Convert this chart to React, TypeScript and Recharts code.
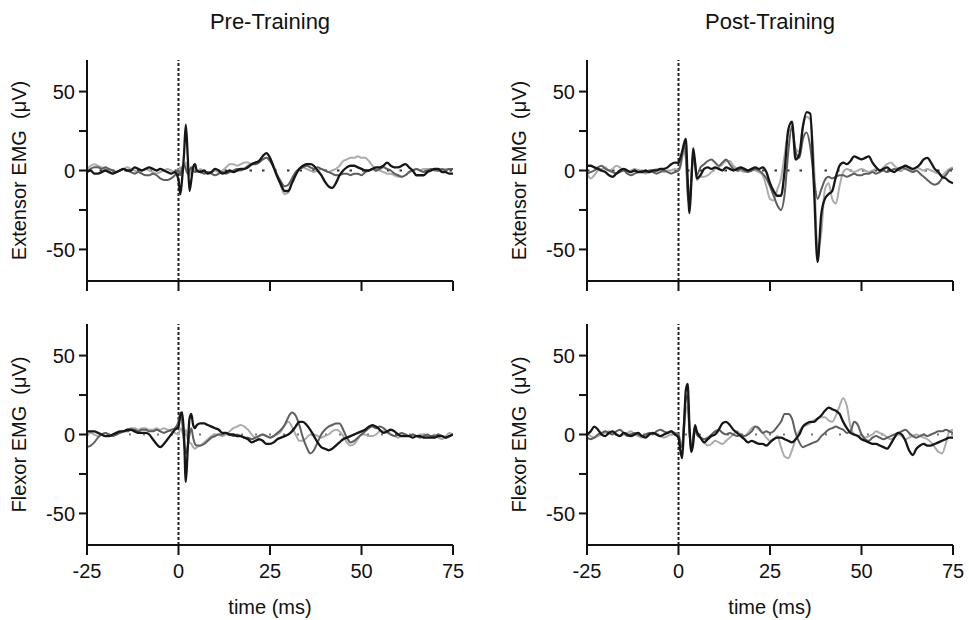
import React from 'react';
import { LineChart, Line, XAxis, YAxis, ReferenceLine } from 'recharts';

// time grid (ms): 1 ms steps, 0.5 ms steps through the stimulus artefact
const TIME = [
  -25, -24, -23, -22, -21, -20, -19, -18, -17, -16, -15, -14, -13, -12, -11, -10, -9, -8, -7, -6, -5, -4, -3, -2, -1,
  0, 0.5, 1, 1.5, 2, 2.5, 3, 3.5, 4, 4.5, 5,
  6, 7, 8, 9, 10, 11, 12, 13, 14, 15, 16, 17, 18, 19, 20, 21, 22, 23, 24, 25,
  26, 27, 28, 29, 30, 31, 32, 33, 34, 35, 36, 37, 38, 39, 40, 41, 42, 43, 44, 45,
  46, 47, 48, 49, 50, 51, 52, 53, 54, 55, 56, 57, 58, 59, 60, 61, 62, 63, 64, 65,
  66, 67, 68, 69, 70, 71, 72, 73, 74, 75,
];

const X_TICKS = [-25, 0, 25, 50, 75];
const Y_TICKS = [-50, -25, 0, 25, 50];
const Y_LABELED = [50, 0, -50];

// Pre-Training, extensor (µV)
const PRE_EXT_BLACK = [
  -1, 0, -2, -2, -1, 0, -1, -2, -1, 0, 1, 0, 0, 2, 1, 0, 1, 2, 1, 0, 1, 0, -1, -2, -1,
  -6, -15, -5, 10, 29, 10, -13, -6, 2, 4, 0,
  -1, 0, -2, -1, 1, 0, -2, -1, 0, -1, 0, 1, 1, 2, 4, 5, 6, 9, 11, 8,
  2, -4, -9, -13, -13, -8, -3, 1, 3, 4, 4, 3, 0, -3, -7, -10, -11, -8, -3, 0,
  2, 3, 3, 2, 1, 0, 0, 1, 2, 2, 3, 5, 3, 2, 2, 3, 4, 2, 0, -3,
  -3, -3, -1, 0, 1, 1, -1, -1, -2, -2,
];
const PRE_EXT_DARK = [
  -1, 1, 2, 2, 1, 2, 1, 0, -1, 0, 1, 0, -1, -2, -1, -2, -3, -3, -2, -3, -5, -6, -6, -5, -3,
  0, -3, 2, 4, 1, -2, 0, 2, 0, -1, 0,
  -1, -2, -1, -2, -3, -2, -1, -2, -1, 0, 1, 0, 1, 3, 4, 4, 5, 7, 8, 6,
  2, -3, -7, -10, -9, -5, -1, 1, 2, 3, 2, 1, 2, 1, 0, -1, -2, -3, -3, -2,
  -2, -3, -2, -2, -3, -1, 0, 1, 0, 1, 2, 1, 0, -2, -3, -4, -3, -1, 0, 1,
  0, -1, 0, 1, 0, 0, 1, 0, 1, 1,
];
const PRE_EXT_LIGHT = [
  1, 3, 4, 3, 2, 1, 0, -2, -1, 0, 1, 2, 1, 0, -1, 0, 1, 0, -1, -2, -1, 0, 1, 0, -1,
  0, 2, -2, 3, 5, 0, -3, 1, 2, 0, -1,
  1, -1, -2, -1, 0, -1, 0, 2, 4, 4, 3, 4, 5, 5, 4, 5, 6, 7, 8, 7,
  3, -3, -10, -15, -14, -7, -2, 1, 2, 1, 0, -1, 0, 1, 0, -1, 0, 1, 3, 6,
  7, 8, 8, 9, 8, 8, 6, 3, 1, 0, -1, -2, -2, -3, -4, -4, -3, -1, 0, 1,
  0, 1, 1, 0, 1, 1, 0, 1, 1, 1,
];

// Pre-Training, flexor (µV)
const PRE_FLX_BLACK = [
  2, 2, 2, 1, 0, -1, -1, 0, 1, 2, 2, 3, 3, 2, 1, 1, 1, 0, -3, -6, -8, -6, -3, 0, 3,
  5, 12, 14, 0, -30, -10, 10, 13, 6, 4, 6,
  7, 7, 6, 5, 4, 3, 1, 1, 0, 0, -1, -1, -2, -3, -5, -4, -3, -4, -6, -6,
  -5, -3, -2, -1, 0, 2, 5, 8, 8, 6, 3, -1, -5, -8, -9, -10, -9, -7, -5, -3,
  -2, -1, 0, 1, 2, 3, 5, 6, 5, 3, 1, 2, 3, 2, 0, -1, -1, -1, -2, -1,
  -1, -2, -2, -2, -2, -1, -1, -2, -1, 0,
];
const PRE_FLX_DARK = [
  -8, -7, -5, -2, 0, 1, 0, -1, 0, 1, 2, 2, 3, 3, 2, 3, 3, 2, 2, 3, 2, 1, 2, 3, 4,
  8, 14, 8, -5, -12, -8, 0, 4, -2, -6, -7,
  -7, -6, -4, -2, -1, 0, 0, 1, 0, -1, 0, -1, -2, -2, -3, -2, -1, 0, -1, -2,
  -1, 1, 3, 6, 11, 14, 12, 6, -2, -8, -12, -10, -5, 0, 3, 5, 6, 7, 7, 3,
  -2, -5, -4, -2, 0, 2, 4, 5, 4, 5, 4, 2, 0, -1, 0, 1, 0, -1, 0, -1,
  -2, -1, 0, -1, -1, 0, -1, -2, -1, 0,
];
const PRE_FLX_LIGHT = [
  0, 1, 0, -1, 0, 1, 0, -1, 0, 1, 2, 3, 4, 4, 3, 4, 4, 3, 3, 4, 3, 4, 3, 2, 1,
  0, 4, 2, -2, 3, -3, -5, -6, -8, -9, -8,
  -7, -5, -3, -1, 0, 0, -1, 0, 2, 4, 5, 6, 5, 3, 0, -2, -1, 0, -1, -2,
  -1, 0, 2, 6, 8, 5, 0, -4, -4, -2, 0, 0, -1, -2, -1, 0, 2, 3, 2, -1,
  -5, -7, -6, -3, 0, 0, -1, -1, 0, 2, 2, 1, 0, -1, -2, -1, 0, -1, 0, -1,
  0, 0, -1, -1, 0, -2, -3, -1, 1, 0,
];

// Post-Training, extensor (µV)
const POST_EXT_BLACK = [
  3, 3, 2, 1, 0, -1, -3, -4, -2, 0, 1, 0, -1, 0, -1, -1, 0, -1, 0, 0, 1, 1, 2, 4, 5,
  5, 8, 12, 17, 20, -5, -27, -8, 14, 6, -5,
  -3, 1, 2, 1, 2, 1, 0, 2, 1, 0, 1, 2, 1, 0, 1, 2, 1, 2, -1, -8,
  -13, -16, -16, 0, 26, 31, 7, 10, 28, 37, 36, -10, -58, -28, -18, -15, -13, -4, 3, 5,
  4, 6, 9, 8, 7, 8, 9, 5, 2, 0, 1, 2, 0, -1, 1, 2, 3, 2, 1, 2,
  4, 7, 8, 5, 1, -1, -4, -5, -7, -8,
];
const POST_EXT_DARK = [
  -2, -1, 0, 2, 3, 1, 0, -1, -2, -1, 0, -2, -3, -2, -1, 0, -1, 0, -1, -2, -1, 0, -1, -2, -1,
  0, 3, 10, 16, 10, -15, -22, -5, 10, 5, -3,
  2, 4, 6, 7, 5, 3, 5, 7, 4, 1, 0, 1, 0, -1, 0, 1, 0, -2, -5, -10,
  -16, -22, -25, -15, 12, 28, 12, 8, 20, 24, 15, -5, -18, -12, -6, -4, -5, -4, -3, -3,
  -4, -3, -2, -3, -3, -2, -2, -1, -2, -1, 0, -1, 0, 1, 0, 2, 1, 0, -1, 0,
  -2, -4, -6, -8, -9, -8, -5, -3, 0, 1,
];
const POST_EXT_LIGHT = [
  -2, -5, -3, 0, 1, 2, 0, 1, 3, 2, 0, -1, 0, 1, 0, -1, -2, -1, 0, 1, 0, -1, 0, 0, 1,
  0, 2, 8, 12, 8, -12, -18, -6, 6, 3, -6,
  -4, -4, -3, -1, 1, 2, 4, 6, 6, 3, 1, 0, -1, 0, 1, 0, -1, -3, -10, -18,
  -19, -12, -5, 10, 24, 26, 14, 12, 28, 34, 32, 5, -50, -40, -12, -8, -18, -21, -10, -1,
  1, 0, -1, 0, 1, 0, -1, 0, 1, 0, 2, 4, 5, 3, 1, 0, 2, 1, 0, 2,
  1, 0, 1, 0, -1, -2, -3, -1, 1, 2,
];

// Post-Training, flexor (µV)
const POST_FLX_BLACK = [
  0, 2, 5, 3, 0, -1, 1, 2, 0, -1, 1, 0, -1, 0, 1, -1, -2, 0, 1, 0, -1, 0, 1, 2, 0,
  -2, -10, -15, 5, 28, 32, 5, -11, -6, 6, 2,
  -2, -5, -3, -1, 0, 3, 7, 8, 6, 3, 1, -1, -3, -5, -4, -5, -6, -6, -7, -5,
  -3, -2, -2, -3, -4, -5, -3, 0, 5, 7, 8, 8, 10, 12, 15, 17, 16, 15, 13, 8,
  4, 1, 0, -1, -3, -4, -5, -6, -6, -7, -8, -9, -6, -2, 1, 0, -4, -10, -13, -9,
  -7, -6, -7, -7, -6, -5, -4, -3, -2, -2,
];
const POST_FLX_DARK = [
  -2, -3, -2, 0, 1, 2, 1, 0, 2, 3, 1, -1, 0, 1, 0, -1, 0, 1, 0, 2, 3, 2, 1, 2, 1,
  0, -6, -8, 8, 22, 25, 2, -10, -2, 5, 0,
  -2, -3, -2, 0, 2, 3, 1, 0, 1, 0, -1, 0, -1, 0, 2, 5, 4, 1, 2, 1,
  2, 5, 8, 13, 13, 10, 1, -5, -8, -7, -6, -5, -4, -1, 1, 3, 4, 5, 4, 3,
  1, 2, 8, 6, 0, -3, -4, -2, -1, -2, -3, -2, -1, 0, 1, 2, 3, 1, -1, -2,
  -1, 0, -1, 0, 1, 2, 2, 3, 2, 1,
];
const POST_FLX_LIGHT = [
  1, -1, -2, -1, 0, 1, 2, 1, 0, -1, 0, 1, 2, 0, -1, -2, -1, 0, 1, 0, -1, -2, -1, 0, 0,
  0, -4, -6, 4, 15, 18, 0, -8, -4, 3, 0,
  -2, -5, -7, -6, -4, -5, -6, -4, -2, 0, 2, 0, -1, 1, 4, 5, 3, 1, -2, -4,
  -3, -1, -8, -14, -15, -10, -3, 2, 5, 6, 7, 9, 10, 11, 11, 9, 8, 12, 18, 23,
  18, 5, 0, -1, 0, -2, -1, 0, 2, 1, 0, -2, -3, -2, 0, -1, -3, -2, -1, 0,
  -1, -2, -3, -5, -8, -11, -12, -6, 2, 3,
];

const COLORS = { black: '#161616', dark: '#5f5f5f', light: '#acacac' };
const FONT = '"Liberation Sans", Arial, Helvetica, sans-serif';

const buildRows = (black: number[], dark: number[], light: number[]) =>
  TIME.map((t, i) => ({ t, black: black[i], dark: dark[i], light: light[i] }));

const yLabel = (text: string) => (props: any) => {
  const vb = props.viewBox || {};
  const cx = 19;
  const cy = vb.y + vb.height / 2;
  return (
    <text x={cx} y={cy} transform={`rotate(-90 ${cx} ${cy})`} textAnchor="middle"
      dominantBaseline="central" fill="#111" fontSize={20} fontFamily={FONT}>
      {text}
    </text>
  );
};

const xLabel = (props: any) => {
  const vb = props.viewBox || {};
  return (
    <text x={vb.x + vb.width / 2} y={vb.y + 62} textAnchor="middle" dominantBaseline="central"
      fill="#111" fontSize={20} fontFamily={FONT}>
      time (ms)
    </text>
  );
};

interface PanelProps {
  rows: any[];
  label: string;
  bottom?: boolean;
  left: number;
  top: number;
}

const Panel: React.FC<PanelProps> = ({ rows, label, bottom, left, top }) => {
  const margin = bottom
    ? { top: 24, right: 16, bottom: 0, left: 0 }
    : { top: 60, right: 16, bottom: 0, left: 0 };
  return (
    <div style={{ position: 'absolute', left, top }}>
      <LineChart width={469} height={bottom ? 320 : 300} data={rows} margin={margin}>
        <XAxis
          dataKey="t"
          type="number"
          domain={[-25, 75]}
          ticks={X_TICKS}
          allowDataOverflow
          height={bottom ? 75 : 19}
          axisLine={{ stroke: '#111', strokeWidth: 2 }}
          tickLine={{ stroke: '#111', strokeWidth: 2 }}
          tickSize={10}
          tickMargin={9}
          tick={{ fill: '#111', fontSize: 20, fontFamily: FONT }}
          tickFormatter={(v) => (bottom ? String(v) : '')}
          label={bottom ? xLabel : undefined}
        />
        <YAxis
          type="number"
          domain={[-70, 70]}
          ticks={Y_TICKS}
          allowDataOverflow
          width={87}
          axisLine={{ stroke: '#111', strokeWidth: 2 }}
          tickLine={{ stroke: '#111', strokeWidth: 2 }}
          tickSize={8}
          tickMargin={4}
          tick={{ fill: '#111', fontSize: 20, fontFamily: FONT }}
          tickFormatter={(v) => (Y_LABELED.includes(v) ? String(v) : '')}
          label={yLabel(label)}
        />
        <ReferenceLine y={0} stroke={bottom ? '#777' : '#333'} strokeWidth={2}
          strokeDasharray={bottom ? '2 12' : '2.5 10'} />
        <ReferenceLine x={0} stroke="#222" strokeWidth={2} strokeDasharray="3 2" />
        <Line type="monotone" dataKey="light" stroke={COLORS.light} strokeWidth={2}
          dot={false} isAnimationActive={false} />
        <Line type="monotone" dataKey="dark" stroke={COLORS.dark} strokeWidth={2}
          dot={false} isAnimationActive={false} />
        <Line type="monotone" dataKey="black" stroke={COLORS.black} strokeWidth={2.3}
          dot={false} isAnimationActive={false} />
      </LineChart>
    </div>
  );
};

const titleStyle = (left: number): React.CSSProperties => ({
  position: 'absolute',
  left,
  top: 11,
  width: 366,
  lineHeight: '22px',
  fontSize: 22,
  fontFamily: FONT,
  color: '#111',
  textAlign: 'center',
});

const App: React.FC = () => (
  <div style={{ position: 'absolute', left: 0, top: 0, width: 969, height: 620, background: '#fff' }}>
    <div style={titleStyle(87)}>Pre-Training</div>
    <div style={titleStyle(587)}>Post-Training</div>
    <Panel rows={buildRows(PRE_EXT_BLACK, PRE_EXT_DARK, PRE_EXT_LIGHT)} label={'Extensor EMG\u00A0\u00A0(μV)'} left={0} top={0} />
    <Panel rows={buildRows(POST_EXT_BLACK, POST_EXT_DARK, POST_EXT_LIGHT)} label={'Extensor EMG\u00A0\u00A0(μV)'} left={500} top={0} />
    <Panel rows={buildRows(PRE_FLX_BLACK, PRE_FLX_DARK, PRE_FLX_LIGHT)} label={'Flexor EMG\u00A0\u00A0(μV)'} bottom left={0} top={300} />
    <Panel rows={buildRows(POST_FLX_BLACK, POST_FLX_DARK, POST_FLX_LIGHT)} label={'Flexor EMG\u00A0\u00A0(μV)'} bottom left={500} top={300} />
  </div>
);

export default App;
